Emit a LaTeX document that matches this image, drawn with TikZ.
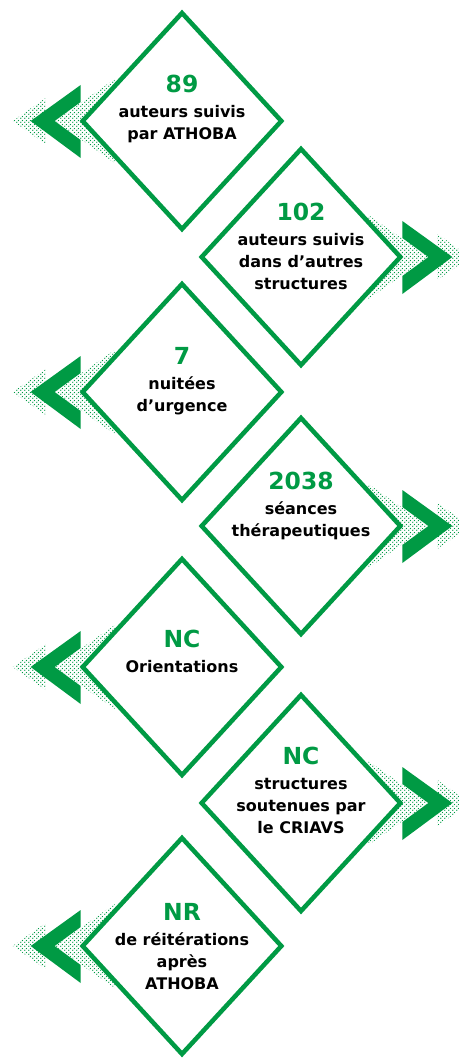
\documentclass[tikz,border=0pt]{standalone}
\usepackage{fontspec}
\setmainfont{DejaVu Sans}
\usepackage{tikz}
\usetikzlibrary{shapes.geometric}
\usetikzlibrary{patterns.meta}
\usetikzlibrary{backgrounds}

\definecolor{athoba}{RGB}{0,154,68}

% staggered dots, a bit coarser than crosshatch dots
\tikzdeclarepattern{
  name=pointilles,
  type=uncolored,
  bottom left={(0pt,0pt)},
  top right={(3pt,3pt)},
  tile size={(3pt,3pt)},
  code={
    \fill (0.75pt,0.75pt) circle (0.62pt);
    \fill (2.25pt,2.25pt) circle (0.62pt);
  }
}

\tikzset{
  losange/.style={shape=diamond, draw=athoba, line width=3.4pt, fill=white,
    inner sep=0pt, outer sep=0pt, minimum width=149pt, minimum height=162pt},
  chiffre/.style={anchor=north, align=center, inner sep=0pt,
    font=\fontsize{12}{16.5}\selectfont\bfseries},
  pointe/.style={fill=athoba},
  trame/.style={pattern=pointilles, pattern color=athoba}
}

% big green number on top of each diamond
\newcommand{\nombre}[1]{{\fontsize{17.6}{22}\selectfont\color{athoba}#1}}

% double chevron at a corner: #1 corner, #2 = 1 (left) or -1 (right)
\newcommand{\chevrons}[2]{%
  \begin{scope}[on background layer, shift={(#1)}, xscale=#2]
    \fill[trame] (-28,0) -- (32,-42) -- (32,42) -- cycle;
    \fill[trame] (-70,0) -- (-37,-23) -- (-37,23) -- cycle;
  \end{scope}
  \begin{scope}[shift={(#1)}, xscale=#2]
    \fill[pointe] (-2,-36) -- (-52,0) -- (-2,37) -- (-2,19) -- (-28,0) -- (-2,-19) -- cycle;
  \end{scope}}

\begin{document}
\begin{tikzpicture}[x=0.75pt,y=0.75pt,yscale=-1,xscale=1]
\useasboundingbox (0,0) rectangle (458,1059);

%Diamonds
\node[losange] (d1) at (182,121) {};
\node[losange] (d2) at (301,257) {};
\node[losange] (d3) at (182,392) {};
\node[losange] (d4) at (301,526) {};
\node[losange] (d5) at (182,667) {};
\node[losange] (d6) at (301,803) {};
\node[losange] (d7) at (182,946) {};

%Chevrons
\chevrons{d1.west}{1}
\chevrons{d2.east}{-1}
\chevrons{d3.west}{1}
\chevrons{d4.east}{-1}
\chevrons{d5.west}{1}
\chevrons{d6.east}{-1}
\chevrons{d7.west}{1}

% Text Node
\node[chiffre] (n1) at (182,75) {\nombre{89}\\[2.25pt]auteurs suivis\\par ATHOBA};
% Text Node
\node[chiffre] (n2) at (301,203) {\nombre{102}\\[2.25pt]auteurs suivis\\dans d’autres\\structures};
% Text Node
\node[chiffre] (n3) at (182,347) {\nombre{7}\\[2.25pt]nuitées\\d’urgence};
% Text Node
\node[chiffre] (n4) at (301,472) {\nombre{2038}\\[2.25pt]séances\\thérapeutiques};
% Text Node
\node[chiffre] (n5) at (182,630) {\nombre{NC}\\[2.25pt]Orientations};
% Text Node
\node[chiffre] (n6) at (301,747) {\nombre{NC}\\[2.25pt]structures\\soutenues par\\le CRIAVS};
% Text Node
\node[chiffre] (n7) at (182,903) {\nombre{NR}\\[2.25pt]de réitérations\\après\\ATHOBA};

\end{tikzpicture}
\end{document}
